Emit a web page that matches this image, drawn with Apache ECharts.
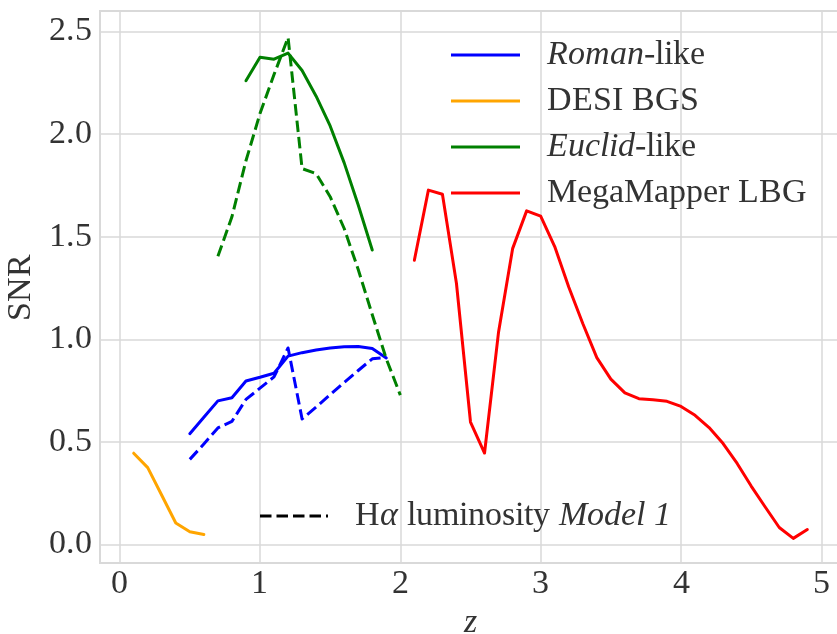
<!DOCTYPE html>
<html>
<head>
<meta charset="utf-8">
<script src="https://cdn.jsdelivr.net/npm/echarts@6/dist/echarts.min.js"></script>
<style>
  /* serif face for all chart text, taken from the locally installed Liberation Serif files */
  @font-face { font-family: 'ChartSerif'; font-style: normal; font-weight: 400;
    src: local('Liberation Serif'), local('LiberationSerif'), local('Liberation Serif Regular'), local('Times New Roman'); }
  @font-face { font-family: 'ChartSerif'; font-style: italic; font-weight: 400;
    src: local('Liberation Serif Italic'), local('LiberationSerif-Italic'), local('Times New Roman Italic'); }
  html, body { margin: 0; padding: 0; background: #ffffff; }
  #chart { width: 837px; height: 634px; }
  #fontwarm { position: absolute; left: 0; top: 0; visibility: hidden; font-family: 'ChartSerif'; font-size: 34px; }
</style>
</head>
<body>
<div id="fontwarm"><span>SNR 0.5</span> <i>z</i></div>
<div id="chart"></div>
<script>
// Redshift samples and signal-to-noise for each survey
const romanZ = [0.5, 0.6, 0.7, 0.8, 0.9, 1.0, 1.1, 1.2, 1.3, 1.4, 1.5, 1.6, 1.7, 1.8, 1.9];
const romanSNR = [0.54, 0.62, 0.70, 0.715, 0.797, 0.815, 0.835, 0.918, 0.935, 0.948, 0.958, 0.964, 0.965, 0.955, 0.909];
const romanModel1SNR = [0.415, 0.49, 0.568, 0.600, 0.707, 0.762, 0.817, 0.958, 0.612, 0.67, 0.73, 0.79, 0.848, 0.905, 0.912];

const desiZ = [0.1, 0.2, 0.3, 0.4, 0.5, 0.6];
const desiSNR = [0.445, 0.375, 0.24, 0.105, 0.062, 0.049];

const euclidZ = [0.9, 1.0, 1.1, 1.2, 1.3, 1.4, 1.5, 1.6, 1.7, 1.8];
const euclidSNR = [2.26, 2.375, 2.365, 2.395, 2.31, 2.185, 2.04, 1.86, 1.655, 1.435];
const euclidModel1Z = [0.7, 0.8, 0.9, 1.0, 1.1, 1.2, 1.3, 1.4, 1.5, 1.6, 1.7, 1.8, 1.9, 2.0];
const euclidModel1SNR = [1.405, 1.597, 1.87, 2.10, 2.29, 2.471, 1.832, 1.808, 1.695, 1.54, 1.34, 1.12, 0.905, 0.728];

const megaZ = [2.1, 2.2, 2.3, 2.4, 2.5, 2.6, 2.7, 2.8, 2.9, 3.0, 3.1, 3.2, 3.3, 3.4, 3.5,
               3.6, 3.7, 3.8, 3.9, 4.0, 4.1, 4.2, 4.3, 4.4, 4.5, 4.6, 4.7, 4.8, 4.9];
const megaSNR = [1.385, 1.727, 1.707, 1.272, 0.597, 0.446, 1.036, 1.442, 1.626, 1.600, 1.452, 1.255, 1.077, 0.911, 0.806,
                 0.739, 0.711, 0.705, 0.698, 0.673, 0.630, 0.570, 0.492, 0.395, 0.285, 0.183, 0.083, 0.030, 0.073];

const xTicks = [0, 1, 2, 3, 4, 5];
const yTicks = [0.0, 0.5, 1.0, 1.5, 2.0, 2.5];

const FONT = "ChartSerif, 'Liberation Serif', 'Times New Roman', serif";
const FS = 34;
const TEXT = '#333333';
const GRID = '#d9d9d9';

const pairs = (xs, ys) => xs.map((x, i) => [x, ys[i]]);

const DASH = [11.5, 5];
function line(name, color, xs, ys, dashed) {
  return {
    type: 'line',
    name: name,
    color: color,
    data: pairs(xs, ys),
    showSymbol: false,
    symbol: 'none',
    silent: true,
    lineStyle: { width: 3, color: color, type: dashed ? DASH : 'solid', join: 'round', cap: dashed ? 'butt' : 'round' }
  };
}

const HALPHA = 'H\u03b1 luminosity Model 1';
const legendNames = {
  'Roman-like': '{gap|}{it|Roman}{n|-like}',
  'DESI BGS': '{gap|}{n|DESI BGS}',
  'Euclid-like': '{gap|}{it|Euclid}{n|-like}',
  'MegaMapper LBG': '{gap|}{n|MegaMapper LBG}'
};
legendNames[HALPHA] = '{gap|}{n|H}{it|\u03b1}{n| luminosity }{it|Model 1}';

const richText = {
  gap: { width: 22 },
  n: { fontFamily: FONT, fontSize: FS, color: TEXT },
  it: { fontStyle: 'italic', fontFamily: FONT, fontSize: FS, color: TEXT }
};

function draw() {
  const chart = echarts.init(document.getElementById('chart'));
  chart.setOption({
    animation: false,
    backgroundColor: '#ffffff',
    textStyle: { fontFamily: FONT, fontSize: FS, color: TEXT },
    grid: {
      left: 100, top: 11, width: 741, height: 552,
      outerBoundsMode: 'none',
      containLabel: false,
      show: true, borderColor: GRID, borderWidth: 2, backgroundColor: 'transparent'
    },
    xAxis: {
      type: 'value',
      min: -0.14, max: 5.14,
      splitNumber: 5,
      name: 'z',
      nameLocation: 'middle',
      nameGap: 55,
      nameTextStyle: { fontFamily: FONT, fontSize: FS, fontStyle: 'italic', color: TEXT, verticalAlign: 'middle', lineHeight: 24 },
      axisLine: { show: false },
      axisTick: { show: false },
      splitLine: { show: true, lineStyle: { color: GRID, width: 1.5 } },
      axisLabel: {
        showMinLabel: false, showMaxLabel: false,
        margin: 4,
        fontFamily: FONT, fontSize: FS, color: TEXT,
        formatter: v => xTicks.includes(Math.round(v * 1000) / 1000) ? String(v) : ''
      }
    },
    yAxis: {
      type: 'value',
      min: -0.09, max: 2.6,
      splitNumber: 5,
      name: 'SNR',
      nameLocation: 'middle',
      nameGap: 58,
      nameRotate: 90,
      nameTextStyle: { fontFamily: FONT, fontSize: FS, color: TEXT },
      axisLine: { show: false },
      axisTick: { show: false },
      splitLine: { show: true, lineStyle: { color: GRID, width: 1.5 } },
      axisLabel: {
        showMinLabel: false, showMaxLabel: false,
        margin: 8,
        fontFamily: FONT, fontSize: FS, color: TEXT,
        formatter: v => yTicks.includes(Math.round(v * 1000) / 1000) ? v.toFixed(1) : ''
      }
    },
    legend: [
      {
        data: ['Roman-like', 'DESI BGS', 'Euclid-like', 'MegaMapper LBG'],
        orient: 'vertical',
        left: 451, top: 35,
        padding: 0,
        itemGap: 6,
        itemWidth: 69, itemHeight: 3,
        icon: 'rect',
        selectedMode: false,
        formatter: n => legendNames[n],
        textStyle: { fontFamily: FONT, fontSize: FS, color: TEXT, lineHeight: 40, rich: richText }
      },
      {
        data: [HALPHA],
        orient: 'horizontal',
        left: 260, top: 496,
        padding: 0,
        itemWidth: 68, itemHeight: 3,
        icon: 'path://M0,0h11.5v3h-11.5z M16.5,0h11.5v3h-11.5z M33,0h11.5v3h-11.5z M49.5,0h11.5v3h-11.5z M66,0h2v3h-2z',
        selectedMode: false,
        formatter: n => legendNames[n],
        textStyle: { fontFamily: FONT, fontSize: FS, color: TEXT, lineHeight: 40, rich: richText }
      }
    ],
    series: [
      line('Roman-like', '#0000ff', romanZ, romanSNR, false),
      line('Roman-like', '#0000ff', romanZ, romanModel1SNR, true),
      line('DESI BGS', '#ffa500', desiZ, desiSNR, false),
      line('Euclid-like', '#008000', euclidZ, euclidSNR, false),
      line('Euclid-like', '#008000', euclidModel1Z, euclidModel1SNR, true),
      line('MegaMapper LBG', '#ff0000', megaZ, megaSNR, false),
      { type: 'line', name: HALPHA, color: '#000000', data: [], symbol: 'none', lineStyle: { width: 3, type: DASH } }
    ]
  });
}

// draw once the serif faces are available to the canvas (or after a short wait)
let drawn = false;
function drawOnce() { if (!drawn) { drawn = true; draw(); } }
Promise.all([
  document.fonts.load(FS + 'px ChartSerif'),
  document.fonts.load('italic ' + FS + 'px ChartSerif')
]).catch(() => {}).then(drawOnce);
setTimeout(drawOnce, 800);
</script>
</body>
</html>
